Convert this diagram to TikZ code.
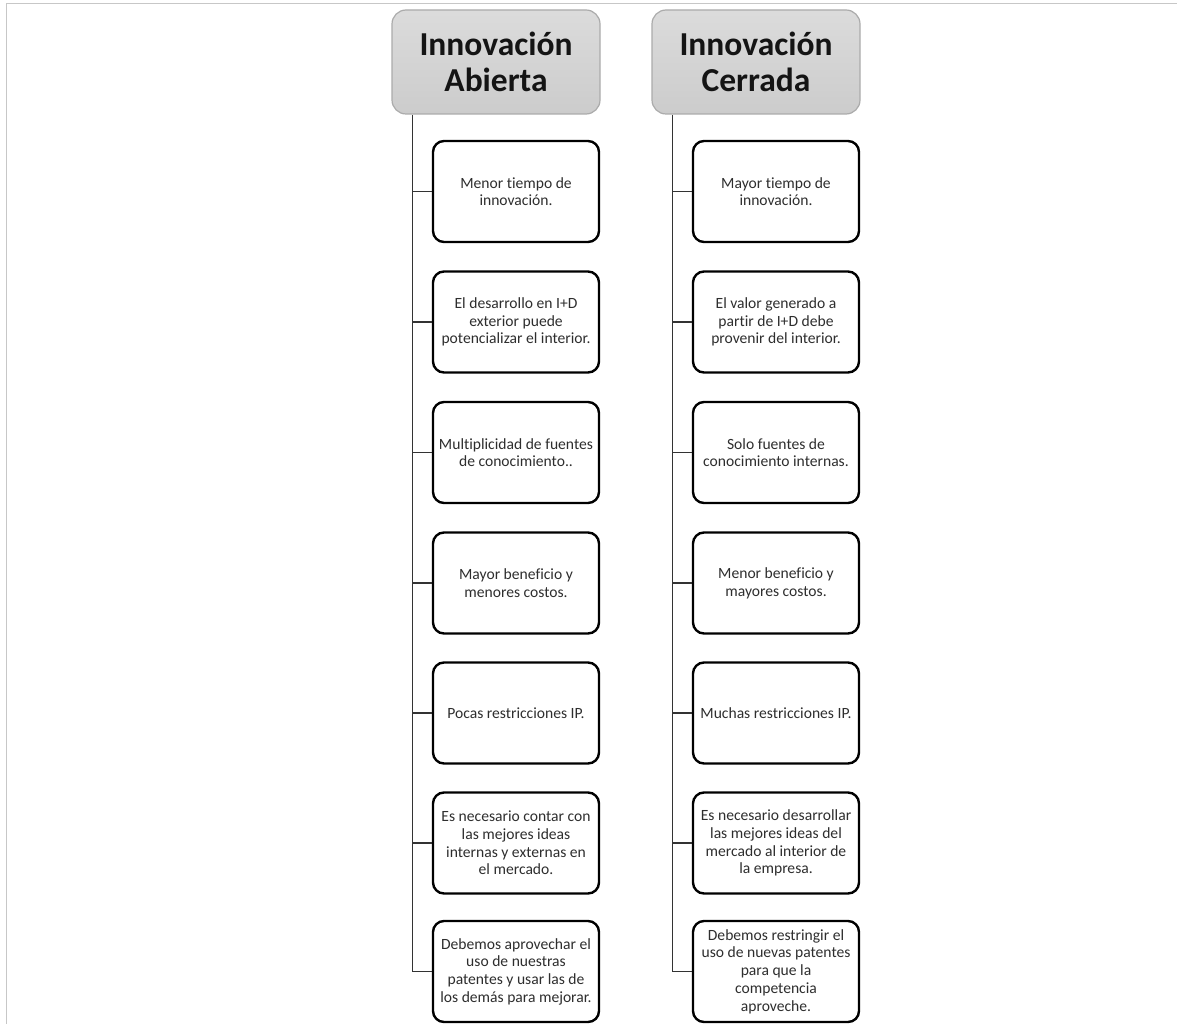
\documentclass[tikz,border=0pt]{standalone}
\usepackage{fontspec}
\newfontfamily\boxfont{Carlito}[Ligatures=NoCommon]
\begin{document}
\begin{tikzpicture}[x=1pt,y=-1pt,
  headbox/.style={draw=black!33, line width=1.2pt, rounded corners=14pt,
    top color=black!14, bottom color=black!20,
    minimum width=208pt, minimum height=104pt, inner sep=0pt,
    align=center, font=\boxfont\bfseries\fontsize{33.5}{36.5}\selectfont, text=black!92},
  itembox/.style={draw=black, line width=2.4pt, rounded corners=11pt, fill=white,
    minimum width=166pt, minimum height=101pt, inner sep=0pt,
    align=center, font=\boxfont\fontsize{15.6}{17.7}\selectfont, text=black!82},
  link/.style={draw=black!80, line width=1.4pt},
  frame/.style={draw=black!22, line width=1.5pt}]
\useasboundingbox (0,0) rectangle (1177,1024);
% page frame lines
\draw[frame] (6.5,1024) -- (6.5,3.5) -- (1177,3.5);

% column headers
\node[headbox] (hA) at (496,62) {Innovación\\Abierta};
\node[headbox] (hC) at (756,62) {Innovación\\Cerrada};

% open innovation column
\node[itembox] (a1) at (516,191.5) {Menor tiempo de\\innovación.};
\node[itembox] (a2) at (516,322) {El desarrollo en I+D\\exterior puede\\potencializar el interior.};
\node[itembox] (a3) at (516,452.5) {Multiplicidad de fuentes\\de conocimiento..};
\node[itembox] (a4) at (516,583) {Mayor beneficio y\\menores costos.};
\node[itembox] (a5) at (516,713) {Pocas restricciones IP.};
\node[itembox] (a6) at (516,843) {Es necesario contar con\\las mejores ideas\\internas y externas en\\el mercado.};
\node[itembox] (a7) at (516,971.5) {Debemos aprovechar el\\uso de nuestras\\patentes y usar las de\\los demás para mejorar.};

% closed innovation column
\node[itembox] (c1) at (776,191.5) {Mayor tiempo de\\innovación.};
\node[itembox] (c2) at (776,322) {El valor generado a\\partir de I+D debe\\provenir del interior.};
\node[itembox] (c3) at (776,452.5) {Solo fuentes de\\conocimiento internas.};
\node[itembox] (c4) at (776,583) {Menor beneficio y\\mayores costos.};
\node[itembox] (c5) at (776,713) {Muchas restricciones IP.};
\node[itembox] (c6) at (776,843) {Es necesario desarrollar\\las mejores ideas del\\mercado al interior de\\la empresa.};
\node[itembox] (c7) at (776,971.5) {Debemos restringir el\\uso de nuevas patentes\\para que la\\competencia\\aproveche.};

% trunks and branches
\coordinate (tA) at ([xshift=21pt]hA.south west);
\coordinate (tC) at ([xshift=21pt]hC.south west);
\draw[link] (tA) |- (a7.west);
\draw[link] (tC) |- (c7.west);
\foreach \i in {1,...,6}{
  \draw[link] (tA |- a\i.west) -- (a\i.west);
  \draw[link] (tC |- c\i.west) -- (c\i.west);
}
\end{tikzpicture}
\end{document}
